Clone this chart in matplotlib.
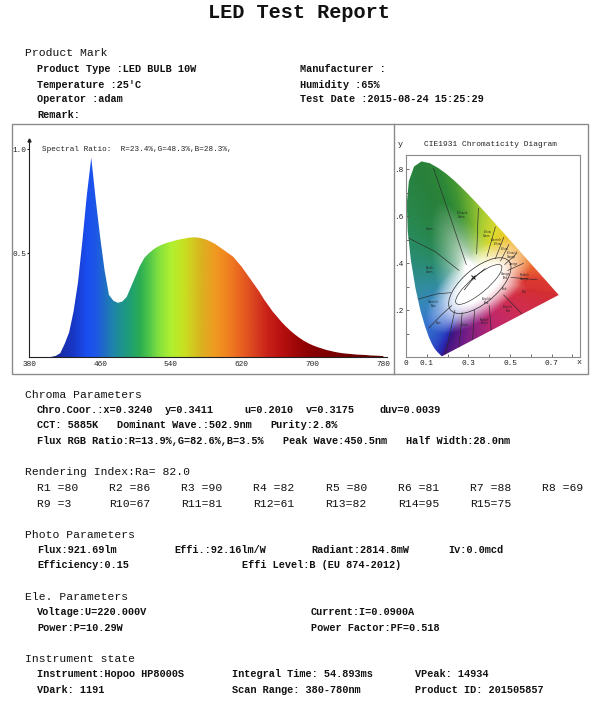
import numpy as np
import matplotlib
matplotlib.use("Agg")
import matplotlib.pyplot as plt
from matplotlib.colors import LinearSegmentedColormap
from matplotlib.patches import Rectangle, Polygon, Ellipse
from matplotlib.lines import Line2D

# ---------------- data ----------------
wavelengths = list(range(380, 785, 5))
intensity = [0, 0, 0, 0, 0, 0.002, 0.007, 0.02, 0.065, 0.12,
             0.22, 0.36, 0.56, 0.78, 0.96, 0.76, 0.58, 0.42, 0.30, 0.272,
             0.262, 0.268, 0.29, 0.34, 0.39, 0.44, 0.478, 0.50, 0.518, 0.532,
             0.542, 0.55, 0.556, 0.562, 0.567, 0.571, 0.575, 0.577, 0.576, 0.572,
             0.566, 0.556, 0.545, 0.53, 0.515, 0.50, 0.485, 0.46, 0.435, 0.405,
             0.375, 0.345, 0.315, 0.28, 0.25, 0.22, 0.195, 0.17, 0.148, 0.128,
             0.11, 0.094, 0.08, 0.068, 0.058, 0.05, 0.043, 0.036, 0.031, 0.026,
             0.022, 0.019, 0.017, 0.015, 0.013, 0.012, 0.011, 0.009, 0.008, 0.007,
             0.006]
spec_xticks = [380, 460, 540, 620, 700, 780]
spec_yticks = [0.5, 1.0]
spectral_ratio = "Spectral Ratio:  R=23.4%,G=48.3%,B=28.3%,"

# CIE 1931 spectral locus (x, y)
locus_wl = list(range(380, 655, 5)) + [660, 680, 700]
locus_x = [0.1741, 0.1740, 0.1738, 0.1736, 0.1733, 0.1730, 0.1726, 0.1721, 0.1714, 0.1703,
           0.1689, 0.1669, 0.1644, 0.1611, 0.1566, 0.1510, 0.1440, 0.1355, 0.1241, 0.1096,
           0.0913, 0.0687, 0.0454, 0.0235, 0.0082, 0.0039, 0.0139, 0.0389, 0.0743, 0.1142,
           0.1547, 0.1929, 0.2296, 0.2658, 0.3016, 0.3373, 0.3731, 0.4087, 0.4441, 0.4788,
           0.5125, 0.5448, 0.5752, 0.6029, 0.6270, 0.6482, 0.6658, 0.6801, 0.6915, 0.7006,
           0.7079, 0.7140, 0.7190, 0.7230, 0.7260, 0.7300, 0.7334, 0.7347]
locus_y = [0.0050, 0.0050, 0.0049, 0.0049, 0.0048, 0.0048, 0.0048, 0.0048, 0.0051, 0.0058,
           0.0069, 0.0086, 0.0109, 0.0138, 0.0177, 0.0227, 0.0297, 0.0399, 0.0578, 0.0868,
           0.1327, 0.2007, 0.2950, 0.4127, 0.5384, 0.6548, 0.7502, 0.8120, 0.8338, 0.8262,
           0.8059, 0.7816, 0.7543, 0.7243, 0.6923, 0.6589, 0.6245, 0.5896, 0.5547, 0.5202,
           0.4866, 0.4544, 0.4242, 0.3965, 0.3725, 0.3514, 0.3340, 0.3197, 0.3083, 0.2993,
           0.2920, 0.2859, 0.2809, 0.2770, 0.2740, 0.2700, 0.2666, 0.2653]
cie_point = (0.3240, 0.3411)
cie_xtick_labels = {0.0: "0", 0.1: "0.1", 0.3: "0.3", 0.5: "0.5", 0.7: "0.7"}
cie_ytick_labels = {0.2: ".2", 0.4: ".4", 0.6: ".6", 0.8: ".8"}

kelly_lines = [
    [(0.132, 0.804), (0.204, 0.62), (0.29, 0.395)],
    [(0.0, 0.513), (0.14, 0.45), (0.255, 0.37)],
    [(0.348, 0.634), (0.34, 0.44)],
    [(0.43, 0.555), (0.39, 0.43)],
    [(0.47, 0.51), (0.43, 0.42)],
    [(0.495, 0.48), (0.455, 0.41)],
    [(0.53, 0.44), (0.475, 0.395)],
    [(0.565, 0.40), (0.49, 0.37)],
    [(0.63, 0.33), (0.505, 0.34)],
    [(0.56, 0.183), (0.47, 0.265)],
    [(0.41, 0.115), (0.40, 0.22)],
    [(0.32, 0.073), (0.33, 0.2)],
    [(0.255, 0.043), (0.27, 0.19)],
    [(0.06, 0.248), (0.15, 0.27), (0.215, 0.275)],
    [(0.11, 0.125), (0.17, 0.18), (0.22, 0.22)],
    [(0.19, 0.012), (0.235, 0.2)],
]
kelly_labels = [("Yellowish\nGreen", 0.266, 0.605), ("Green", 0.116, 0.546),
                ("Yellow\nGreen", 0.388, 0.525), ("Greenish\nYellow", 0.436, 0.492),
                ("Yellow", 0.47, 0.462), ("Yellowish\nOrange", 0.508, 0.435),
                ("Orange", 0.516, 0.397), ("Bluish\nGreen", 0.116, 0.372),
                ("Orange\nPink", 0.477, 0.347), ("Reddish\nOrange", 0.572, 0.343),
                ("Pink", 0.473, 0.29), ("Red", 0.57, 0.279),
                ("Greenish\nBlue", 0.132, 0.227), ("Purplish\nPink", 0.388, 0.24),
                ("Purplish\nRed", 0.49, 0.205), ("Blue", 0.156, 0.145),
                ("Purple", 0.284, 0.138), ("Reddish\nPurple", 0.38, 0.152)]

title = "LED Test Report"
product_left = ["Product Type :LED BULB 10W", "Temperature :25'C", "Operator :adam", "Remark:"]
product_right = ["Manufacturer :", "Humidity :65%", "Test Date :2015-08-24 15:25:29"]
chroma_row1 = ["Chro.Coor.:x=0.3240", "y=0.3411", "u=0.2010", "v=0.3175", "duv=0.0039"]
chroma_row2 = ["CCT: 5885K", "Dominant Wave.:502.9nm", "Purity:2.8%"]
chroma_row3 = ["Flux RGB Ratio:R=13.9%,G=82.6%,B=3.5%", "Peak Wave:450.5nm", "Half Width:28.0nm"]
ra_value = 82.0
r_names = ["R1 ", "R2 ", "R3 ", "R4 ", "R5 ", "R6 ", "R7 ", "R8 ",
           "R9 ", "R10", "R11", "R12", "R13", "R14", "R15"]
r_values = [80, 86, 90, 82, 80, 81, 88, 69, 3, 67, 81, 61, 82, 95, 75]
photo_row1 = ["Flux:921.69lm", "Effi.:92.16lm/W", "Radiant:2814.8mW", "Iv:0.0mcd"]
photo_row2 = ["Efficiency:0.15", "Effi Level:B (EU 874-2012)"]
ele_row1 = ["Voltage:U=220.000V", "Current:I=0.0900A"]
ele_row2 = ["Power:P=10.29W", "Power Factor:PF=0.518"]
inst_row1 = ["Instrument:Hopoo HP8000S", "Integral Time: 54.893ms", "VPeak: 14934"]
inst_row2 = ["VDark: 1191", "Scan Range: 380-780nm", "Product ID: 201505857"]

# ---------------- figure ----------------
W, H = 600, 708
fig = plt.figure(figsize=(6, 7.08), dpi=100)
fig.patch.set_facecolor("white")
MONO = ["Liberation Mono", "DejaVu Sans Mono"]


def fx(px):
    return px / W


def fy(py):
    return 1 - py / H


def txt(px, py, s, size=7.4, bold=True, ha="left", **kw):
    fig.text(fx(px), fy(py), s, fontsize=size, family=MONO,
             weight="bold" if bold else "normal", ha=ha, va="center", color="#111111", **kw)


def header(px, py, s):
    txt(px, py, s, size=8.2, bold=False)


# title + product section
txt(299, 13, title, size=14.6, bold=True, ha="center")
header(25, 53, "Product Mark")
for s, py in zip(product_left, [69, 84.5, 99.5, 115]):
    txt(37, py, s)
for s, py in zip(product_right, [69, 84.5, 99.5]):
    txt(300, py, s)

# chart frame
fig.add_artist(Rectangle((fx(12), fy(374)), fx(588) - fx(12), fy(124) - fy(374),
                         transform=fig.transFigure, fill=False, ec="#8a8a8a", lw=1.0))
fig.add_artist(Line2D([fx(394), fx(394)], [fy(374), fy(124)], transform=fig.transFigure,
                      color="#8a8a8a", lw=1.0))

# ---------------- spectrum ----------------
ax1 = fig.add_axes([fx(29.3), fy(357.3), fx(386.7) - fx(29.3), fy(140) - fy(357.3)])
anchor_wl = [380, 410, 430, 445, 455, 465, 475, 485, 495, 505, 515, 525, 540, 555, 565,
             575, 590, 605, 620, 635, 650, 665, 680, 700, 740, 780]
anchor_col = ["#20207a", "#1a2a9c", "#1838c8", "#1a4ef0", "#1d58e6", "#1f6ec4", "#1f86a8",
              "#1d948c", "#20a070", "#2cae52", "#50c64a", "#80de40", "#b0f030", "#c8e020",
              "#d2c820", "#dcb020", "#f09a20", "#f08020", "#e86020", "#d84020", "#c82018",
              "#b81010", "#a00808", "#880000", "#700000", "#600000"]
cmap = LinearSegmentedColormap.from_list(
    "spec", [((w - 380) / 400, c) for w, c in zip(anchor_wl, anchor_col)])
grad = np.linspace(380, 780, 1200)[None, :]
im = ax1.imshow(grad, extent=[380, 780, 0, 1.0], aspect="auto", cmap=cmap,
                vmin=380, vmax=780, origin="lower", interpolation="bilinear")
verts = [(wavelengths[0], 0)] + list(zip(wavelengths, intensity)) + [(wavelengths[-1], 0)]
clip = Polygon(verts, closed=True, transform=ax1.transData, fc="none", ec="none")
ax1.add_patch(clip)
im.set_clip_path(clip)
ax1.set_xlim(380, 783.8)
ax1.set_ylim(0, 1.045)
for sp in ["top", "right"]:
    ax1.spines[sp].set_visible(False)
for sp in ["left", "bottom"]:
    ax1.spines[sp].set_color("#222222")
    ax1.spines[sp].set_linewidth(0.8)
ax1.set_xticks(spec_xticks)
ax1.set_xticklabels([str(v) for v in spec_xticks], family=MONO, fontsize=5.6)
ax1.set_yticks(spec_yticks)
ax1.set_yticklabels(["%.1f" % v for v in spec_yticks], family=MONO, fontsize=5.6)
ax1.tick_params(axis="x", length=0, pad=2.5, colors="#222222")
ax1.tick_params(axis="y", length=1.5, pad=0.5, colors="#222222")
ax1.plot([380], [1.045], marker="^", ms=2.2, color="#222222", clip_on=False)
ax1.text(0.035, 0.955, spectral_ratio, transform=ax1.transAxes, family=MONO, fontsize=5.5,
         color="#222222", va="center")
ax1.patch.set_alpha(0)

# ---------------- CIE diagram ----------------
ax2 = fig.add_axes([fx(406), fy(357.3), fx(580) - fx(406), fy(155) - fy(357.3)])
xmax, ymax = 0.837, 0.861

# colour styling of the horseshoe: edge colour by wavelength, fading to white at the centre
edge_wl = [380, 430, 455, 470, 480, 487, 492, 497, 503, 515, 530, 540, 550, 560, 570,
           578, 588, 600, 615, 700]
edge_rgb = np.array([(60, 20, 130), (45, 30, 160), (40, 50, 185), (45, 85, 200), (55, 115, 205),
                     (55, 140, 185), (45, 140, 140), (40, 140, 100), (40, 135, 75),
                     (40, 128, 60), (45, 135, 55), (65, 150, 50), (110, 175, 50),
                     (170, 205, 50), (222, 218, 45), (240, 190, 40), (240, 145, 40),
                     (232, 95, 50), (218, 55, 50), (212, 45, 50)]) / 255.0
purple_t = [0.0, 0.3, 0.55, 0.8, 1.0]
purple_rgb = np.array([(212, 45, 50), (208, 45, 80), (190, 40, 110), (120, 30, 135),
                       (60, 20, 130)]) / 255.0
wl_arr = np.array(locus_wl, float)
bx = list(locus_x)
by = list(locus_y)
bc = [np.array([np.interp(wl, edge_wl, edge_rgb[:, c]) for c in range(3)]) for wl in wl_arr]
for t in np.linspace(0, 1, 40)[1:-1]:
    bx.append(locus_x[-1] + (locus_x[0] - locus_x[-1]) * t)
    by.append(locus_y[-1] + (locus_y[0] - locus_y[-1]) * t)
    bc.append(np.array([np.interp(t, purple_t, purple_rgb[:, c]) for c in range(3)]))
bx = np.array(bx)
by = np.array(by)
bc = np.array(bc)
xw, yw = 0.333, 0.333
bang = np.arctan2(by - yw, bx - xw)
brad = np.hypot(bx - xw, by - yw)
order = np.argsort(bang)
bang, brad, bc = bang[order], brad[order], bc[order]
bang = np.concatenate([bang[-1:] - 2 * np.pi, bang, bang[:1] + 2 * np.pi])
brad = np.concatenate([brad[-1:], brad, brad[:1]])
bc = np.concatenate([bc[-1:], bc, bc[:1]])

gx = np.linspace(0.0, xmax, 420)
gy = np.linspace(0.0, ymax, 420)
X, Y = np.meshgrid(gx, gy)
ang = np.arctan2(Y - yw, X - xw)
rad = np.hypot(X - xw, Y - yw)
re = np.interp(ang, bang, brad)
p = np.clip(rad / re, 0, 1)
f = np.clip((p - 0.15) / 0.5, 0, 1) ** 0.6
edge = np.stack([np.interp(ang, bang, bc[:, c]) for c in range(3)], axis=-1)
rgb = 1 - (1 - edge) * f[..., None]
# white core around the ellipse
ca, sa = np.cos(np.radians(35)), np.sin(np.radians(35))
du, dv = X - 0.355, Y - 0.305
eu = (du * ca + dv * sa) / 0.19
ev = (-du * sa + dv * ca) / 0.085
e = np.hypot(eu, ev)
wcore = np.clip((1.6 - e) / 1.0, 0, 1)
rgb = rgb * (1 - wcore[..., None]) + wcore[..., None]
rgb = np.clip(rgb, 0, 1)
im2 = ax2.imshow(rgb, extent=[0, xmax, 0, ymax], origin="lower", aspect="auto",
                 interpolation="bilinear")
lpoly = Polygon(list(zip(locus_x, locus_y)), closed=True, transform=ax2.transData,
                fc="none", ec="none")
ax2.add_patch(lpoly)
im2.set_clip_path(lpoly)
for pts in kelly_lines:
    xs, ys = zip(*pts)
    ln, = ax2.plot(xs, ys, color="#2a2a2a", lw=0.45)
    ln.set_clip_path(lpoly)
ax2.add_patch(Ellipse((0.355, 0.305), 0.35, 0.155, angle=35, fill=False, ec="#2a2a2a", lw=0.5))
ax2.add_patch(Ellipse((0.35, 0.31), 0.27, 0.075, angle=36, fill=False, ec="#2a2a2a", lw=0.45))
for lab, lx, ly in kelly_labels:
    ax2.text(lx, ly, lab, fontsize=1.8, ha="center", va="center", color="#222222",
             linespacing=0.9)
ax2.plot([0.281, 0.313, 0.345, 0.38], [0.288, 0.324, 0.352, 0.377], color="#222222", lw=0.5)
ax2.plot([cie_point[0]], [cie_point[1]], marker="x", ms=3, mew=0.7, color="#111111")
ax2.set_xlim(0, xmax)
ax2.set_ylim(0, ymax)
ax2.set_xticks(np.round(np.arange(0.0, 0.81, 0.1), 1))
ax2.set_yticks(np.round(np.arange(0.1, 0.81, 0.1), 1))
ax2.set_xticklabels([cie_xtick_labels.get(round(v, 1), "") for v in ax2.get_xticks()],
                    family=MONO, fontsize=5.6)
ax2.set_yticklabels([cie_ytick_labels.get(round(v, 1), "") for v in ax2.get_yticks()],
                    family=MONO, fontsize=5.6)
ax2.tick_params(direction="in", length=2.5, width=0.6, colors="#555555", labelcolor="#222222",
                pad=2)
for sp in ax2.spines.values():
    sp.set_color("#8a8a8a")
    sp.set_linewidth(0.8)
fig.text(fx(400), fy(145), "y", family=MONO, fontsize=6, ha="center", va="center", color="#222222")
fig.text(fx(490), fy(145), "CIE1931 Chromaticity Diagram", family=MONO, fontsize=5.7,
         ha="center", va="center", color="#222222")
fig.text(fx(579), fy(362), "x", family=MONO, fontsize=6, ha="center", va="center", color="#222222")

# ---------------- lower report ----------------
header(25, 395, "Chroma Parameters")
for s, px in zip(chroma_row1, [37, 165, 244, 306, 379]):
    txt(px, 410, s)
for s, px in zip(chroma_row2, [37, 116.7, 270.7]):
    txt(px, 425.5, s)
for s, px in zip(chroma_row3, [37, 283, 406]):
    txt(px, 441, s)

header(25, 472, "Rendering Index:Ra= %.1f" % ra_value)
for i, (nm, v) in enumerate(zip(r_names, r_values)):
    row, col = divmod(i, 8)
    txt(36.7 + 72.2 * col, 488 + 16 * row, "%s=%d" % (nm, v), size=8.2, bold=False)

header(25, 535, "Photo Parameters")
for s, px in zip(photo_row1, [37, 174, 311, 448]):
    txt(px, 550, s)
for s, px in zip(photo_row2, [37, 241.7]):
    txt(px, 565.5, s)

header(25, 597, "Ele. Parameters")
for s, px in zip(ele_row1, [37, 311]):
    txt(px, 612, s)
for s, px in zip(ele_row2, [37, 311]):
    txt(px, 628, s)

header(25, 659, "Instrument state")
for s, px in zip(inst_row1, [37, 232, 415]):
    txt(px, 674, s)
for s, px in zip(inst_row2, [37, 232, 415]):
    txt(px, 690, s)

fig.savefig("out.png", dpi=100, facecolor="white")
